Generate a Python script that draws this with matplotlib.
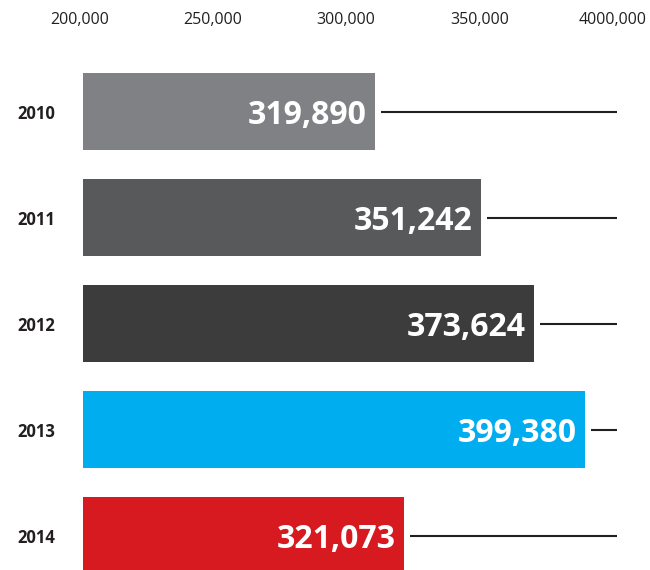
import matplotlib
matplotlib.use("Agg")
import matplotlib.pyplot as plt
import matplotlib.transforms as mtrans
import numpy as np

# data
years      = ["2010", "2011", "2012", "2013", "2014"]
bar_values = [309700, 349500, 369400, 388500, 320600]   # bar lengths as drawn
labels     = ["319,890", "351,242", "373,624", "399,380", "321,073"]
colors     = ["#808184", "#58595b", "#3c3c3c", "#00aeef", "#d71920"]
tick_vals  = [200000, 250000, 300000, 350000, 400000]
tick_text  = ["200,000", "250,000", "300,000", "350,000", "4000,000"]

BASE  = 200000
XMAX  = 400600
TEXT  = "#231f20"
FONT  = "Open Sans"

W, H = 650, 570
fig = plt.figure(figsize=(W / 100, H / 100), dpi=100, facecolor="white")
ax = fig.add_axes([83 / W, 0, (617 - 83) / W, 530 / H])

y = np.arange(len(years))
widths = [v - BASE for v in bar_values]
ax.barh(y, widths, left=BASE, height=0.726, color=colors, edgecolor="none")

# leader lines from bar end to right edge
px = (XMAX - BASE) / (617 - 83)
ax.hlines(y, [v + 6 * px for v in bar_values], XMAX, color=TEXT, linewidth=1.5)

for yi, v, lab in zip(y, bar_values, labels):
    ax.annotate(lab, (v, yi), xytext=(-6, 0), textcoords="offset points",
                ha="right", va="center_baseline", color="white",
                fontsize=23, fontweight="bold", family=FONT)

ax.set_xlim(BASE, XMAX)
ax.set_ylim(4.325, -0.6745)
ax.xaxis.tick_top()
ax.set_xticks(tick_vals)
ax.set_xticklabels(tick_text, fontsize=11.5, color=TEXT, family=FONT)
ax.tick_params(axis="x", length=0, pad=9)
# labels in the source sit a few px left of the bar origin
shift = mtrans.ScaledTranslation(-3 / 100, 0, fig.dpi_scale_trans)
for t in ax.get_xticklabels():
    t.set_transform(t.get_transform() + shift)
ax.set_yticks(y)
ax.set_yticklabels(years, fontsize=12, fontweight="bold", color=TEXT, family=FONT)
ax.tick_params(axis="y", length=0, pad=20)
for s in ax.spines.values():
    s.set_visible(False)

fig.savefig("out.png", dpi=100, facecolor="white")
